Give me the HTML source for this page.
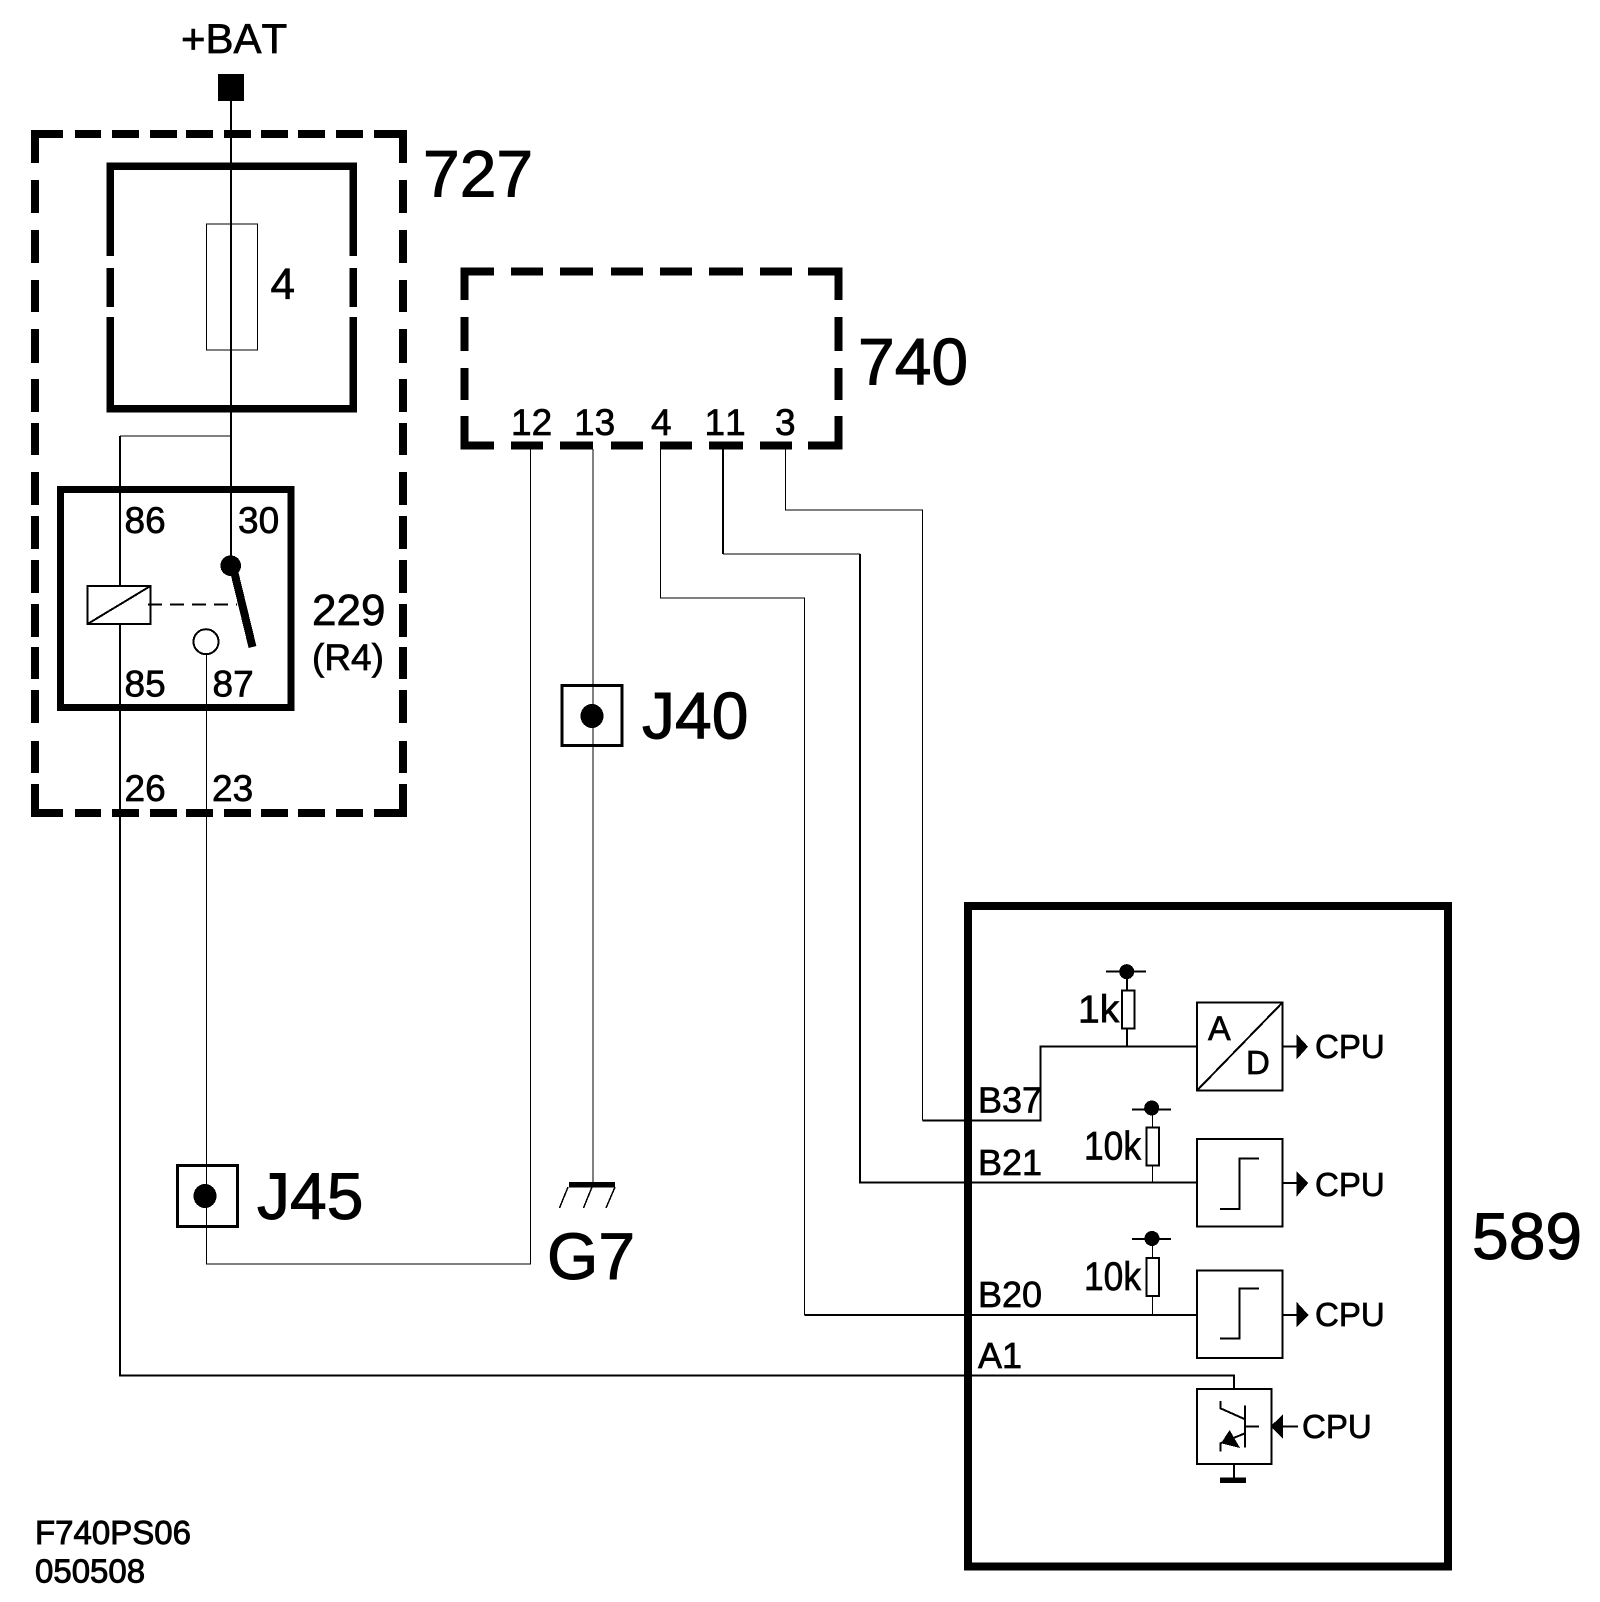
<!DOCTYPE html>
<html><head><meta charset="utf-8"><title>F740PS06</title>
<style>
html,body{margin:0;padding:0;background:#fff}
svg{display:block}
text{font-family:"Liberation Sans",Arial,sans-serif;fill:#000;stroke:#000;stroke-width:.7px;font-kerning:none}
.xl{font-size:66px;stroke-width:1px}.l{font-size:44px}.m{font-size:37px}.c{font-size:33px}.k{font-size:40px}
</style></head><body>
<svg xmlns="http://www.w3.org/2000/svg" width="1600" height="1602" viewBox="0 0 1600 1602" shape-rendering="crispEdges">
<rect width="1600" height="1602" fill="#fff"/>
<g fill="none" stroke="#000">
<!-- dashed 727 -->
<path stroke-width="8" d="M35 163V134H63M75 134H101M112 134H139M150 134H177M186 134H213M224 134H251M261 134H288M298 134H325M336 134H363M374 134H403V163
M35 180V213M35 230V263M35 280V312M35 329V363M35 379V412M35 423V455M35 472V505M35 516V549M35 560V593M35 604V637M35 647V679M35 690V723M35 741V773M35 784V813H63
M75 813H101M112 813H139M150 813H177M186 813H213M224 813H251M261 813H288M298 813H325M336 813H363M374 813H403V784
M403 180V213M403 230V263M403 280V312M403 329V363M403 379V412M403 423V455M403 472V505M403 516V549M403 560V593M403 604V637M403 647V679M403 690V723M403 741V773"/>
<!-- dashed 740 -->
<path stroke-width="8" d="M464.500 300V271.500H494M511 271.500H543M560 271.500H593M611 271.500H643M660 271.500H692M709 271.500H743M760 271.500H792M808 271.500H838.500V300
M464.500 317V351M464.500 368V400M464.500 416V445.500H494M511 445.500H543M560 445.500H593M611 445.500H643M660 445.500H692M709 445.500H743M760 445.500H792M808 445.500H838.500V416M838.500 400V368M838.500 351V317"/>
<!-- fuse box -->
<path stroke-width="7.500" d="M110 256V166H353V256M353 268V307M353 317V408.500H110V317M110 307V268"/>
<rect x="206.500" y="224" width="51" height="126" stroke-width="1"/>
<!-- relay box -->
<rect x="60.500" y="489.500" width="230.500" height="218" stroke-width="7"/>
<!-- 589 box -->
<rect x="968" y="906" width="480" height="660.700" stroke-width="8"/>
<!-- wires thick -->
<g stroke-width="2">
<path d="M231 100V566"/>
<path d="M120 436V586M120 624V1375.700H1234V1389"/>
<path d="M804.300 1315H1197"/>
<path d="M723 449V554M860 554V1182.700H1197"/>
<path d="M922.500 1120.700H1040.700V1046.300H1197"/>
<path d="M1127 971.700V990M1127 1028V1046"/>
</g>
<!-- wires thin -->
<g stroke-width="1">
<path d="M120 436H231"/>
<path d="M206.400 654V1264H530.400V449"/>
<path d="M593 449V1182"/>
<path d="M660.400 449V598H804.300V1315"/>
<path d="M723 554H860"/>
<path d="M785.400 449V510H922.500V1120.700"/>
<path d="M1152.300 1108V1127M1152.300 1165V1183M1152.300 1239V1258M1152.300 1296V1315"/>
</g>
<!-- relay internals -->
<rect x="87.500" y="586" width="63" height="38" stroke-width="2"/>
<path stroke-width="2" d="M87.500 624L150.500 586"/>
<path stroke-width="2" stroke-dasharray="14 8" d="M148 604.700H237"/>
<path stroke-width="8" d="M234 571L252.500 647"/>
<circle cx="206" cy="641.700" r="12.500" fill="#fff" stroke-width="2"/>
<!-- J boxes -->
<rect x="562" y="685.500" width="60" height="60" stroke-width="3"/>
<rect x="177.500" y="1165.500" width="60" height="61" stroke-width="3"/>
<!-- ground G7 -->
<path stroke-width="1.500" d="M568 1187L559.500 1208M592 1187L583.500 1208M615 1187L606 1208"/>
<!-- resistors -->
<g stroke-width="2" fill="#fff">
<rect x="1122" y="990.500" width="12.500" height="38"/>
<rect x="1146.500" y="1127.500" width="12.500" height="38"/>
<rect x="1146.500" y="1258" width="12.500" height="38"/>
</g>
<path stroke-width="2" d="M1106 971.700H1146M1132 1109.300H1171M1132 1239H1171"/>
<!-- function blocks -->
<g stroke-width="2">
<rect x="1197" y="1002.500" width="85.500" height="88"/>
<path d="M1197 1090.500L1282.500 1002.500"/>
<rect x="1197" y="1139" width="85.500" height="87.500"/>
<path d="M1220 1209H1239.300V1158.300H1259"/>
<rect x="1197" y="1270.500" width="85.500" height="87.500"/>
<path d="M1220 1338.300H1239.300V1288.700H1259"/>
<rect x="1197" y="1389" width="74.500" height="75"/>
<path d="M1245 1405.700V1447.700M1245 1426.300H1259M1220.400 1401V1408.300L1245 1419.300M1245 1433.300L1220.400 1443.300V1451.700"/>
<path d="M1282 1046.500H1297M1282 1183H1297M1282 1315H1297M1283 1426.300H1298"/>
<path d="M1233.800 1464V1478"/>
</g>
</g>
<g fill="#000">
<rect x="218" y="74" width="26" height="27"/>
<circle cx="230.700" cy="565.700" r="10.300"/>
<ellipse cx="592" cy="716" rx="11.500" ry="12"/>
<ellipse cx="205" cy="1196" rx="11.500" ry="12"/>
<rect x="569" y="1182" width="46" height="5.500"/>
<rect x="1220" y="1477.700" width="26" height="5.500"/>
<circle cx="1126.700" cy="971.700" r="7.500"/>
<circle cx="1151.700" cy="1108" r="7.500"/>
<circle cx="1152" cy="1238.500" r="7.500"/>
<path d="M1296.700 1034.300V1059.300L1308 1046.700Z"/>
<path d="M1296.700 1171.500V1196.500L1308.300 1183Z"/>
<path d="M1296.700 1302V1327.300L1308.500 1315Z"/>
<path d="M1270.600 1426.300L1283.200 1414V1439Z"/>
<path d="M1229.600 1430L1221 1443.300L1240 1448Z"/>
</g>
<text x="181" y="53" font-size="42">+BAT</text>
<text class="xl" x="423" y="196.700">727</text>
<text class="l" x="270.500" y="299">4</text>
<text class="m" x="124.500" y="533">86</text>
<text class="m" x="238" y="533">30</text>
<text class="m" x="124.500" y="696.700">85</text>
<text class="m" x="212.500" y="696.700">87</text>
<text class="m" x="124.500" y="801">26</text>
<text class="m" x="212" y="801">23</text>
<text class="l" x="312" y="625">229</text>
<text x="312" y="670" font-size="37">(R4)</text>
<text class="xl" x="858" y="384.500">740</text>
<text class="m" x="511" y="435">12</text>
<text class="m" x="574" y="435">13</text>
<text class="m" x="651" y="435">4</text>
<text class="m" x="704.500" y="435">11</text>
<text class="m" x="775" y="435">3</text>
<text class="xl" x="642" y="738.700">J40</text>
<text class="xl" x="257" y="1219">J45</text>
<text class="xl" x="547" y="1279">G7</text>
<text class="xl" x="1472" y="1259">589</text>
<text x="978" y="1112.700" font-size="36">B37</text>
<text x="978" y="1175" font-size="36">B21</text>
<text x="978" y="1307" font-size="36">B20</text>
<text x="978" y="1368" font-size="36">A1</text>
<text x="1078" y="1022.300" font-size="39">1k</text>
<text class="k" x="1084" y="1159.300" textLength="57" lengthAdjust="spacingAndGlyphs">10k</text>
<text class="k" x="1084" y="1290" textLength="57" lengthAdjust="spacingAndGlyphs">10k</text>
<text x="1208" y="1040" font-size="34">A</text>
<text x="1246" y="1074" font-size="33">D</text>
<text class="c" x="1315" y="1058">CPU</text>
<text class="c" x="1315" y="1196">CPU</text>
<text class="c" x="1315" y="1326">CPU</text>
<text class="c" x="1302" y="1438">CPU</text>
<text x="35" y="1544" font-size="33" style="stroke-width:.9px">F740PS06</text>
<text x="35" y="1582.700" font-size="33" style="stroke-width:.9px">050508</text>
</svg>
</body></html>
